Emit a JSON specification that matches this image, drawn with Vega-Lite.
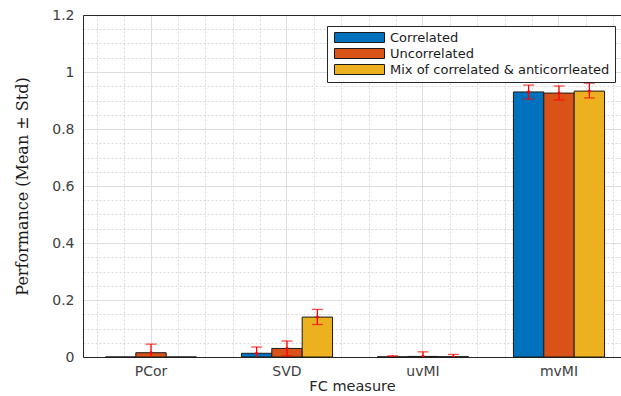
{
  "$schema": "https://vega.github.io/schema/vega-lite/v6.json",
  "width": 538,
  "height": 342,
  "autosize": {"type": "none"},
  "padding": {"left": 83, "top": 15, "right": 0, "bottom": 39},
  "config": {
    "view": {"stroke": null},
    "font": "DejaVu Sans"
  },
  "data": {
    "values": [
      {"measure": "PCor", "type": "Correlated", "mean": 0.0},
      {"measure": "PCor", "type": "Uncorrelated", "mean": 0.015, "lo": -0.015, "hi": 0.045},
      {"measure": "PCor", "type": "Mix of correlated & anticorrleated", "mean": 0.0},
      {"measure": "SVD", "type": "Correlated", "mean": 0.013, "lo": -0.009, "hi": 0.035},
      {"measure": "SVD", "type": "Uncorrelated", "mean": 0.03, "lo": 0.004, "hi": 0.056},
      {"measure": "SVD", "type": "Mix of correlated & anticorrleated", "mean": 0.14, "lo": 0.114, "hi": 0.167},
      {"measure": "uvMI", "type": "Correlated", "mean": 0.0005, "lo": -0.003, "hi": 0.004},
      {"measure": "uvMI", "type": "Uncorrelated", "mean": 0.002, "lo": -0.015, "hi": 0.018},
      {"measure": "uvMI", "type": "Mix of correlated & anticorrleated", "mean": 0.001, "lo": -0.007, "hi": 0.009},
      {"measure": "mvMI", "type": "Correlated", "mean": 0.93, "lo": 0.905, "hi": 0.954},
      {"measure": "mvMI", "type": "Uncorrelated", "mean": 0.926, "lo": 0.902, "hi": 0.951},
      {"measure": "mvMI", "type": "Mix of correlated & anticorrleated", "mean": 0.933, "lo": 0.909, "hi": 0.961}
    ]
  },
  "layer": [
    {
      "mark": {"type": "point", "opacity": 0},
      "encoding": {
        "x": {
          "datum": 1,
          "type": "quantitative",
          "scale": {"domain": [0.5, 4.456], "nice": false, "zero": false},
          "axis": {
            "orient": "top",
            "values": [0.6, 0.8, 1.2, 1.4, 1.6, 1.8, 2.2, 2.4, 2.6, 2.8, 3.2, 3.4, 3.6, 3.8, 4.2, 4.4],
            "labels": false, "ticks": false, "title": null,
            "domain": true, "domainColor": "#262626", "domainWidth": 1,
            "grid": true, "gridColor": "#cfcfcf", "gridDash": [2, 2], "gridWidth": 0.8
          }
        },
        "y": {
          "datum": 0.5,
          "type": "quantitative",
          "scale": {"domain": [0, 1.2], "nice": false, "zero": true},
          "axis": {
            "orient": "right",
            "values": [0.05, 0.1, 0.15, 0.25, 0.3, 0.35, 0.45, 0.5, 0.55, 0.65, 0.7, 0.75, 0.85, 0.9, 0.95, 1.05, 1.1, 1.15],
            "labels": false, "ticks": false, "title": null, "domain": false,
            "grid": true, "gridColor": "#cfcfcf", "gridDash": [2, 2], "gridWidth": 0.8
          }
        }
      }
    },
    {
      "encoding": {
        "x": {
          "field": "measure",
          "type": "nominal",
          "sort": ["PCor", "SVD", "uvMI", "mvMI"],
          "scale": {"paddingInner": 0.33, "paddingOuter": 0.143, "align": 0.577},
          "axis": {
            "title": "FC measure",
            "titleFont": "DejaVu Sans",
            "titleFontSize": 14.5,
            "titleFontWeight": "normal",
            "titleColor": "#262626",
            "titlePadding": 1,
            "labelAngle": 0,
            "labelFont": "DejaVu Sans",
            "labelFontSize": 14,
            "labelColor": "#404040",
            "labelPadding": 7,
            "ticks": false,
            "domainColor": "#262626",
            "domainWidth": 1,
            "grid": true,
            "bandPosition": 0.5,
            "gridColor": "#dedede",
            "gridWidth": 1
          }
        },
        "xOffset": {
          "field": "type",
          "type": "nominal",
          "sort": ["Correlated", "Uncorrelated", "Mix of correlated & anticorrleated"],
          "scale": {"paddingInner": 0, "paddingOuter": 0}
        }
      },
      "layer": [
        {
          "mark": {"type": "bar", "stroke": "#1a1a1a", "strokeWidth": 1},
          "encoding": {
            "y": {
              "field": "mean",
              "type": "quantitative",
              "scale": {"domain": [0, 1.2], "nice": false},
              "axis": {
                "title": "Performance (Mean ± Std)",
                "titleFont": "DejaVu Serif",
                "titleFontSize": 16,
                "titleFontWeight": "normal",
                "titleColor": "#1a1a1a",
                "titlePadding": 21,
                "values": [0, 0.2, 0.4, 0.6, 0.8, 1, 1.2],
                "format": ".1~f",
                "labelFont": "DejaVu Sans",
                "labelFontSize": 14,
                "labelColor": "#404040",
                "labelPadding": 9,
                "ticks": false,
                "domainColor": "#262626",
                "domainWidth": 1,
                "grid": true,
                "gridColor": "#dedede",
                "gridWidth": 1
              }
            },
            "color": {
              "field": "type",
              "type": "nominal",
              "sort": ["Correlated", "Uncorrelated", "Mix of correlated & anticorrleated"],
              "scale": {"range": ["#0072BD", "#D95319", "#EDB120"]},
              "legend": {
                "title": null,
                "orient": "none",
                "legendX": 244,
                "legendY": 11,
                "fillColor": "white",
                "strokeColor": "#262626",
                "padding": 5,
                "symbolType": "M-5,-1H5V1H-5Z",
                "symbolSize": 100,
                "symbolOffset": 21,
                "symbolStrokeColor": "#1a1a1a",
                "symbolStrokeWidth": 1,
                "symbolOpacity": 1,
                "labelFont": "DejaVu Sans",
                "labelFontSize": 13,
                "labelColor": "#1a1a1a",
                "labelOffset": 24,
                "rowPadding": 1,
                "labelLimit": 400
              }
            }
          }
        },
        {
          "mark": {"type": "rule", "color": "#ff0000", "strokeWidth": 1.3, "clip": true},
          "encoding": {
            "y": {"field": "lo", "type": "quantitative"},
            "y2": {"field": "hi"}
          }
        },
        {
          "mark": {"type": "tick", "color": "#ff0000", "size": 11, "thickness": 1.3, "clip": true},
          "encoding": {
            "y": {"field": "hi", "type": "quantitative"}
          }
        },
        {
          "mark": {"type": "tick", "color": "#ff0000", "size": 11, "thickness": 1.3, "clip": true},
          "encoding": {
            "y": {"field": "lo", "type": "quantitative"}
          }
        },
        {
          "mark": {"type": "point", "filled": true, "color": "#ff0000", "size": 10, "opacity": 1, "clip": true},
          "transform": [{"filter": "isValid(datum.hi)"}],
          "encoding": {
            "y": {"field": "mean", "type": "quantitative"}
          }
        }
      ]
    }
  ],
  "resolve": {"scale": {"x": "independent", "y": "independent"}}
}
